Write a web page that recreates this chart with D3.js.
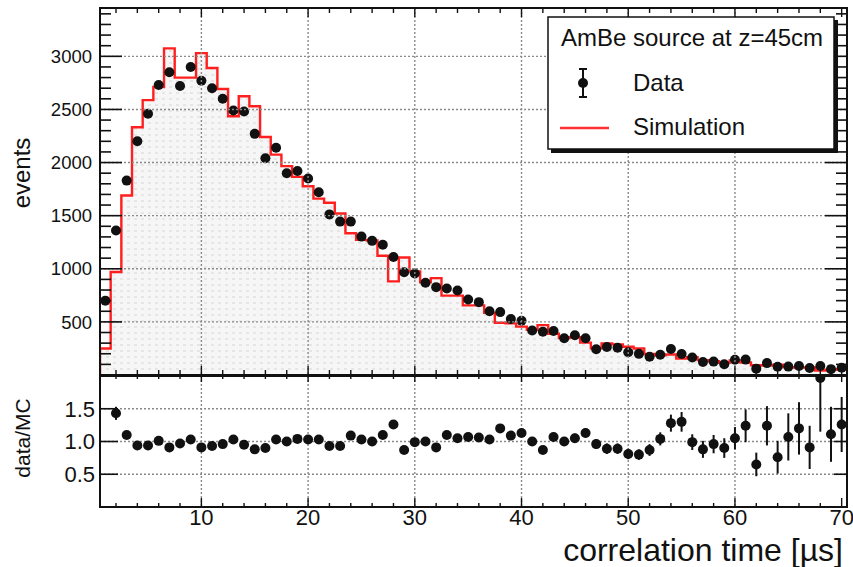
<!DOCTYPE html>
<html>
<head>
<meta charset="utf-8">
<script src="https://cdn.jsdelivr.net/npm/d3@7"></script>
<style>
  html, body { margin: 0; padding: 0; background: #fff; }
  svg { display: block; font-family: "Liberation Sans", Arial, Helvetica, sans-serif; }
</style>
</head>
<body>
<svg id="chart" width="853" height="567"></svg>
<script>
// Neutron capture correlation time: AmBe data vs. simulation (1 µs bins)
const binCenters = [
  1, 2, 3, 4, 5, 6, 7, 8, 9, 10,
  11, 12, 13, 14, 15, 16, 17, 18, 19, 20,
  21, 22, 23, 24, 25, 26, 27, 28, 29, 30,
  31, 32, 33, 34, 35, 36, 37, 38, 39, 40,
  41, 42, 43, 44, 45, 46, 47, 48, 49, 50,
  51, 52, 53, 54, 55, 56, 57, 58, 59, 60,
  61, 62, 63, 64, 65, 66, 67, 68, 69, 70
];
const dataCounts = [
  700, 1360, 1830, 2200, 2460, 2730, 2850, 2720, 2900, 2770,
  2700, 2600, 2490, 2480, 2270, 2040, 2140, 1900, 1920, 1850,
  1720, 1512, 1444, 1444, 1303, 1263, 1226, 1111, 967, 955,
  868, 827, 815, 796, 710, 686, 600, 592, 528, 510,
  419, 408, 415, 346, 375, 346, 243, 264, 256, 215,
  199, 171, 190, 245, 198, 165, 122, 126, 102, 143,
  145, 60, 112, 78, 79, 84, 66, 84, 55, 68
];
const simCounts = [
  250, 970, 1690, 2332, 2588, 2711, 3075, 2800, 2800, 3030,
  2890, 2693, 2436, 2624, 2530, 2241, 2075, 1966, 1865, 1777,
  1660, 1621, 1521, 1334, 1272, 1266, 1122, 881, 1106, 975,
  872, 912, 747, 747, 655, 655, 585, 492, 486, 455,
  425, 470, 388, 348, 355, 305, 252, 298, 288, 266,
  250, 198, 186, 193, 154, 167, 140, 130, 115, 136,
  118, 92, 90, 96, 74, 70, 72, 43, 50, 54
];
const ratioValues = [
  null, 1.43, 1.10, 0.94, 0.94, 1.01, 0.91, 0.97, 1.03, 0.91,
  0.93, 0.96, 1.03, 0.95, 0.88, 0.90, 1.03, 1.00, 1.04, 1.03,
  1.03, 0.93, 0.93, 1.09, 1.03, 1.00, 1.10, 1.26, 0.87, 0.99,
  1.00, 0.91, 1.10, 1.05, 1.07, 1.06, 1.03, 1.20, 1.09, 1.13,
  1.00, 0.87, 1.07, 1.00, 1.05, 1.13, 0.96, 0.89, 0.89, 0.81,
  0.80, 0.87, 1.04, 1.28, 1.30, 0.99, 0.88, 0.96, 0.90, 1.05,
  1.24, 0.65, 1.24, 0.76, 1.07, 1.20, 0.91, 1.97, 1.11, 1.26
];
const ratioErrors = [
  null, 0.10, 0.04, 0.03, 0.03, 0.03, 0.03, 0.03, 0.03, 0.03,
  0.03, 0.03, 0.03, 0.03, 0.03, 0.03, 0.03, 0.03, 0.03, 0.03,
  0.04, 0.04, 0.04, 0.04, 0.04, 0.04, 0.04, 0.05, 0.04, 0.04,
  0.04, 0.04, 0.04, 0.04, 0.05, 0.05, 0.05, 0.06, 0.05, 0.06,
  0.06, 0.06, 0.06, 0.06, 0.07, 0.07, 0.07, 0.08, 0.08, 0.08,
  0.08, 0.09, 0.10, 0.13, 0.15, 0.12, 0.13, 0.14, 0.15, 0.17,
  0.25, 0.18, 0.30, 0.25, 0.36, 0.40, 0.33, 0.82, 0.42, 0.42
];
const xTickValues = [10, 20, 30, 40, 50, 60, 70];
const yTickValues = [500, 1000, 1500, 2000, 2500, 3000];
const ratioTickValues = [0.5, 1.0, 1.5];
const legendTitle = "AmBe source at z=45cm";
const legendLabels = ["Data", "Simulation"];
const xTitle = "correlation time [\u00b5s]";
const yTitle = "events";
const ratioTitle = "data/MC";

const svg = d3.select("#chart");
const L = 100, R = 847;
const mainTop = 8, mainBottom = 375;
const ratioTop = 376, ratioBottom = 507;
const binWidth = 1;
const markerR = 5;

const x = d3.scaleLinear().domain([0.5, 70.5]).range([L, R]);
const y = d3.scaleLinear().domain([0, 3455]).range([mainBottom, mainTop]);
const yr = d3.scaleLinear().domain([0, 2]).range([ratioBottom, ratioTop]);

const ink = "#111";
const gridColor = "#8a8a8a";

// fill pattern for the simulated histogram
const defs = svg.append("defs");
const pat = defs.append("pattern").attr("id", "simFill")
  .attr("patternUnits", "userSpaceOnUse").attr("width", 7).attr("height", 6);
pat.append("rect").attr("width", 7).attr("height", 6).attr("fill", "#f6f6f6");
pat.append("line").attr("x1", 1).attr("x2", 4).attr("y1", 3).attr("y2", 3)
  .attr("stroke", "#d6d6d6").attr("stroke-width", 1);
defs.append("clipPath").attr("id", "clipMain").append("rect")
  .attr("x", L).attr("y", mainTop).attr("width", R - L).attr("height", mainBottom - mainTop);
defs.append("clipPath").attr("id", "clipRatio").append("rect")
  .attr("x", L).attr("y", ratioTop).attr("width", R - L).attr("height", ratioBottom - ratioTop);

// ---------- main panel ----------
const main = svg.append("g");
const mainClip = main.append("g").attr("clip-path", "url(#clipMain)");

// histogram edges for the step outline
const edges = binCenters.map((c, i) => ({ x: c - binWidth / 2, v: simCounts[i] }));
edges.push({ x: binCenters[binCenters.length - 1] + binWidth / 2, v: simCounts[simCounts.length - 1] });

mainClip.append("path")
  .datum(edges)
  .attr("fill", "url(#simFill)")
  .attr("d", d3.area().curve(d3.curveStepAfter).x(d => x(d.x)).y0(y(0)).y1(d => y(d.v)));

// grid
const gridMain = main.append("g").attr("stroke", gridColor).attr("stroke-width", 1.4)
  .attr("stroke-dasharray", "2,2").attr("fill", "none");
xTickValues.filter(v => v < 70).forEach(v => {
  gridMain.append("line").attr("x1", x(v)).attr("x2", x(v)).attr("y1", mainTop).attr("y2", mainBottom);
});
yTickValues.forEach(v => {
  gridMain.append("line").attr("x1", L).attr("x2", R).attr("y1", y(v)).attr("y2", y(v));
});

// simulation outline
mainClip.append("path")
  .datum([{ x: 0.5, v: 0 }].concat(edges))
  .attr("fill", "none").attr("stroke", "#ff1f1f").attr("stroke-width", 2.4)
  .attr("stroke-linejoin", "miter")
  .attr("d", d3.line().curve(d3.curveStepAfter).x(d => x(d.x)).y(d => y(d.v)));

// data points
mainClip.selectAll("circle.data").data(binCenters).enter().append("circle")
  .attr("cx", d => x(d)).attr("cy", (d, i) => y(dataCounts[i])).attr("r", markerR).attr("fill", ink);

// axes: y ticks pointing inward on left and right
const yMinor = d3.range(100, 3455, 100);
const axisG = main.append("g").attr("stroke", ink);
yMinor.forEach(v => {
  const major = v % 500 === 0;
  axisG.append("line").attr("x1", L).attr("x2", L + (major ? 22 : 11)).attr("y1", y(v)).attr("y2", y(v)).attr("stroke-width", 1.6);
  axisG.append("line").attr("x1", R).attr("x2", R - (major ? 22 : 11)).attr("y1", y(v)).attr("y2", y(v)).attr("stroke-width", 1.6);
});
// x ticks on top and bottom of the main frame
const xMinor = d3.range(2, 71, 2);
xMinor.forEach(v => {
  const major = v % 10 === 0;
  axisG.append("line").attr("x1", x(v)).attr("x2", x(v)).attr("y1", mainTop).attr("y2", mainTop + (major ? 9 : 5)).attr("stroke-width", 1.4);
  axisG.append("line").attr("x1", x(v)).attr("x2", x(v)).attr("y1", mainBottom).attr("y2", mainBottom - (major ? 9 : 5)).attr("stroke-width", 1.4);
});
main.append("rect").attr("x", L).attr("y", mainTop).attr("width", R - L).attr("height", mainBottom - mainTop)
  .attr("fill", "none").attr("stroke", ink).attr("stroke-width", 2);

main.selectAll("text.ytick").data(yTickValues).enter().append("text")
  .attr("x", L - 8).attr("y", d => y(d)).attr("dy", "0.36em")
  .attr("text-anchor", "end").attr("font-size", 18.5).attr("fill", ink).text(d => d);

main.append("text").attr("transform", `translate(30,${173}) rotate(-90)`)
  .attr("text-anchor", "middle").attr("font-size", 24).attr("fill", ink).text(yTitle);

// legend
const lg = main.append("g");
lg.append("rect").attr("x", 551).attr("y", 20).attr("width", 287).attr("height", 133)
  .attr("fill", "#111");
lg.append("rect").attr("x", 548).attr("y", 17).attr("width", 286).attr("height", 132)
  .attr("fill", "#fff").attr("stroke", ink).attr("stroke-width", 1.5);
lg.append("text").attr("x", 561).attr("y", 46).attr("font-size", 24).attr("fill", ink).text(legendTitle);
lg.append("line").attr("x1", 583).attr("x2", 583).attr("y1", 69).attr("y2", 97).attr("stroke", ink).attr("stroke-width", 2);
lg.append("line").attr("x1", 579).attr("x2", 587).attr("y1", 69).attr("y2", 69).attr("stroke", ink).attr("stroke-width", 2);
lg.append("line").attr("x1", 579).attr("x2", 587).attr("y1", 97).attr("y2", 97).attr("stroke", ink).attr("stroke-width", 2);
lg.append("circle").attr("cx", 583).attr("cy", 83).attr("r", markerR).attr("fill", ink);
lg.append("text").attr("x", 633).attr("y", 91).attr("font-size", 24).attr("fill", ink).text(legendLabels[0]);
lg.append("line").attr("x1", 560).attr("x2", 609).attr("y1", 128).attr("y2", 128).attr("stroke", "#ff3030").attr("stroke-width", 2.4);
lg.append("text").attr("x", 633).attr("y", 135).attr("font-size", 24).attr("fill", ink).text(legendLabels[1]);

// ---------- ratio panel ----------
const rp = svg.append("g");
const gridR = rp.append("g").attr("stroke", gridColor).attr("stroke-width", 1.4)
  .attr("stroke-dasharray", "2,2").attr("fill", "none");
xTickValues.filter(v => v < 70).forEach(v => {
  gridR.append("line").attr("x1", x(v)).attr("x2", x(v)).attr("y1", ratioTop).attr("y2", ratioBottom);
});
ratioTickValues.forEach(v => {
  gridR.append("line").attr("x1", L).attr("x2", R).attr("y1", yr(v)).attr("y2", yr(v));
});

const rClip = rp.append("g").attr("clip-path", "url(#clipRatio)");
const ratioPts = binCenters.map((c, i) => ({ c, r: ratioValues[i], e: ratioErrors[i] })).filter(d => d.r !== null);
rClip.selectAll("line.err").data(ratioPts).enter().append("line")
  .attr("x1", d => x(d.c)).attr("x2", d => x(d.c))
  .attr("y1", d => yr(d.r - d.e)).attr("y2", d => yr(d.r + d.e))
  .attr("stroke", ink).attr("stroke-width", 2);
rClip.selectAll("circle.r").data(ratioPts).enter().append("circle")
  .attr("cx", d => x(d.c)).attr("cy", d => yr(d.r)).attr("r", markerR).attr("fill", ink);

const rAxis = rp.append("g").attr("stroke", ink);
ratioTickValues.forEach(v => {
  rAxis.append("line").attr("x1", L).attr("x2", L + 18).attr("y1", yr(v)).attr("y2", yr(v)).attr("stroke-width", 1.6);
  rAxis.append("line").attr("x1", R).attr("x2", R - 13).attr("y1", yr(v)).attr("y2", yr(v)).attr("stroke-width", 1.6);
});
xMinor.forEach(v => {
  const major = v % 10 === 0;
  rAxis.append("line").attr("x1", x(v)).attr("x2", x(v)).attr("y1", ratioBottom).attr("y2", ratioBottom - (major ? 9 : 4)).attr("stroke-width", 1.4);
  rAxis.append("line").attr("x1", x(v)).attr("x2", x(v)).attr("y1", ratioTop).attr("y2", ratioTop + (major ? 6 : 3)).attr("stroke-width", 1.4);
});
rp.append("rect").attr("x", L).attr("y", ratioTop).attr("width", R - L).attr("height", ratioBottom - ratioTop)
  .attr("fill", "none").attr("stroke", ink).attr("stroke-width", 2);
rp.append("line").attr("x1", L - 1).attr("x2", R + 1).attr("y1", mainBottom + 0.5).attr("y2", mainBottom + 0.5)
  .attr("stroke", ink).attr("stroke-width", 3);

rp.selectAll("text.rtick").data(ratioTickValues).enter().append("text")
  .attr("x", L - 5).attr("y", d => yr(d)).attr("dy", "0.36em")
  .attr("text-anchor", "end").attr("font-size", 22).attr("fill", ink).text(d => d.toFixed(1));
rp.append("text").attr("transform", `translate(30,${438}) rotate(-90)`)
  .attr("text-anchor", "middle").attr("font-size", 21).attr("fill", ink).text(ratioTitle);

rp.selectAll("text.xtick").data(xTickValues).enter().append("text")
  .attr("x", d => x(d)).attr("y", 525).attr("text-anchor", "middle")
  .attr("font-size", 22).attr("fill", ink).text(d => d);

svg.append("text").attr("x", 843).attr("y", 561).attr("text-anchor", "end")
  .attr("font-size", 32).attr("fill", ink).text(xTitle);
</script>
</body>
</html>
